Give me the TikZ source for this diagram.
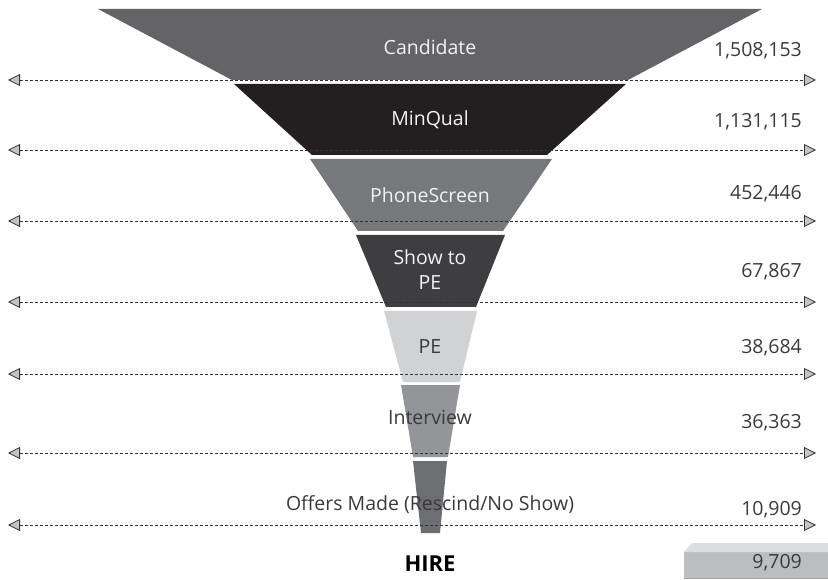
\documentclass[tikz,border=0pt]{standalone}
\usepackage{fontspec}
\setmainfont{Open Sans}
\usetikzlibrary{arrows.meta}
\definecolor{cA}{HTML}{646466}
\definecolor{cB}{HTML}{231F20}
\definecolor{cC}{HTML}{77787B}
\definecolor{cD}{HTML}{3E3E40}
\definecolor{cE}{HTML}{D1D2D4}
\definecolor{cF}{HTML}{939598}
\definecolor{cG}{HTML}{6D6E71}
\definecolor{boxface}{HTML}{BCBDC0}
\definecolor{boxtop}{HTML}{DCDDDF}
\definecolor{numcol}{HTML}{3A3A3A}
\definecolor{lightlab}{HTML}{F2F2F2}
\definecolor{tipfill}{HTML}{C4C4C6}
\definecolor{linecol}{HTML}{333333}
\begin{document}
\begin{tikzpicture}[x=1pt,y=-1pt,
  lab/.style={anchor=base,inner sep=0pt,font=\fontsize{19.5}{26}\selectfont,align=center},
  whitelab/.style={lab,text=lightlab},
  darklab/.style={lab,text=numcol},
  num/.style={anchor=base east,inner sep=0pt,font=\fontsize{19.5}{26}\selectfont,text=numcol},
  flowline/.style={draw=linecol,line width=0.9pt,dash pattern=on 3pt off 2pt,
    {Triangle[length=12pt,width=12pt,fill=tipfill,line width=0.8pt]}-{Triangle[length=12pt,width=12pt,fill=tipfill,line width=0.8pt]}}
]
\useasboundingbox (0,0) rectangle (828,580);
% funnel segments
\fill[cA] (98,9) -- (762,9) -- (628,80) -- (232,80) -- cycle;
\fill[cB] (234,84) -- (626,84) -- (547,155) -- (312,155) -- cycle;
\fill[cC] (310,159) -- (552,159) -- (503,231) -- (358,231) -- cycle;
\fill[cD] (356,235) -- (505,235) -- (476,307) -- (386,307) -- cycle;
\fill[cE] (384,311) -- (477,311) -- (460,382) -- (403,382) -- cycle;
\fill[cF] (401,385) -- (460,385) -- (448,457) -- (413,457) -- cycle;
\fill[cG] (413,461) -- (447,461) -- (440,533) -- (421,533) -- cycle;
% hire box
\fill[boxface] (684,552) rectangle (828,578);
\fill[boxtop] (684,552) -- (692,543) -- (828,543) -- (828,552) -- cycle;
\draw[gray!70,line width=0.6pt] (684,578) -- (828,578);
% dashed connectors
\foreach \i/\yy in {1/80,2/150,3/221,4/302,5/374,6/453,7/525}{
  \coordinate (L\i) at (8,\yy);
  \coordinate (R\i) at (816,\yy);
}
\foreach \i in {1,...,7}{ \draw[flowline] (L\i) -- (R\i); }
% labels
\node[whitelab] (tCand) at (430,55) {Candidate};
\node[whitelab] (tMin) at (430,126) {MinQual};
\node[whitelab] (tPhone) at (430,203) {PhoneScreen};
\node[whitelab] (tShow1) at (430,265) {Show to};
\node[whitelab] (tShow2) at (430,290) {PE};
\node[darklab] (tPE) at (430,353) {PE};
\node[darklab] (tInt) at (430,424) {Interview};
\node[darklab] (tOff) at (430,510) {Offers Made (Rescind/No Show)};
\node[anchor=base,inner sep=0pt,font=\fontsize{22}{26}\selectfont\bfseries,text=black] (tHire) at (430,571) {HIRE};
% numbers
\node[num] (n1) at (802,57) {1,508,153};
\node[num] (n2) at (802,128) {1,131,115};
\node[num] (n3) at (802,200) {452,446};
\node[num] (n4) at (802,278) {67,867};
\node[num] (n5) at (802,353) {38,684};
\node[num] (n6) at (802,428) {36,363};
\node[num] (n7) at (802,515) {10,909};
\node[num] (n8) at (802,568) {9,709};
\end{tikzpicture}
\end{document}
